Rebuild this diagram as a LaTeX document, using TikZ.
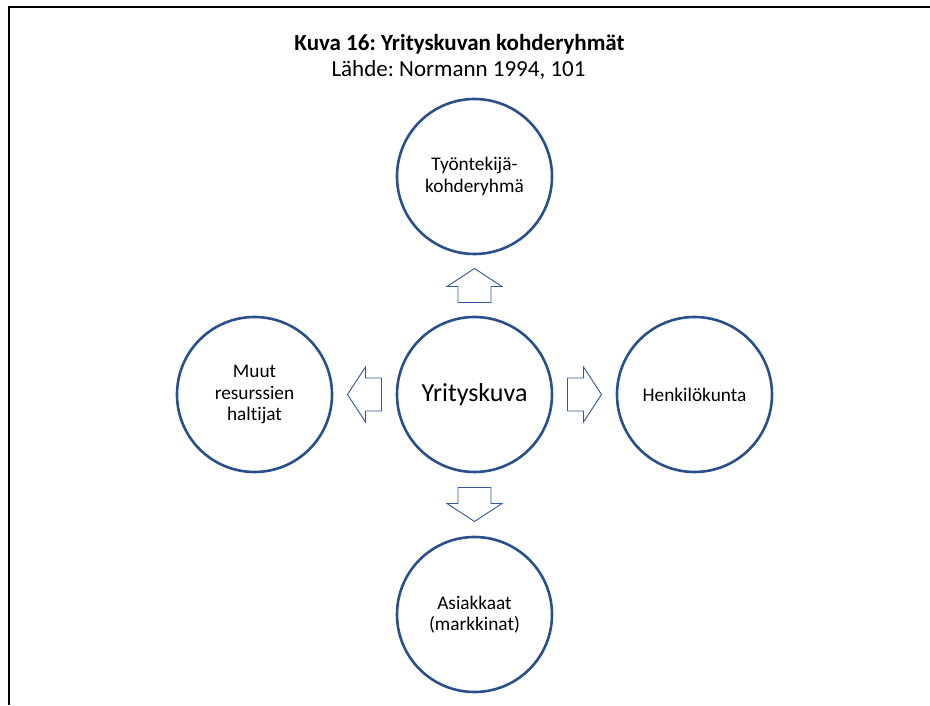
\documentclass[tikz,border=0pt]{standalone}
\usepackage{fontspec}
\setmainfont[Ligatures=NoCommon]{Carlito}
\frenchspacing
\usetikzlibrary{calc}
\definecolor{ringblue}{RGB}{41,80,138}
\definecolor{arrowblue}{RGB}{50,88,150}
\begin{document}
\begin{tikzpicture}[x=1pt,y=1pt,
  ring/.style={circle, draw=ringblue, line width=2.6pt, minimum size=155pt,
    inner sep=0pt, align=center, font=\fontsize{19.3}{21.5}\selectfont},
  heading/.style={anchor=base, font=\fontsize{23}{26}\selectfont},
  pics/blockarrow/.style={code={
    \draw[arrowblue, line width=0.9pt, fill=white, line join=miter]
      (-17,-16.5) -- (-1,-16.5) -- (-1,-27.5) -- (17,0) -- (-1,27.5)
      -- (-1,16.5) -- (-17,16.5) -- cycle;}}]
\useasboundingbox (0,0) rectangle (930,705);

% page frame: left and top edges
\draw[line width=2pt] (8.5,0) -- (8.5,697.5) -- (930,697.5);

% caption
\node[heading, font=\bfseries\fontsize{23}{26}\selectfont] (title) at (459.5,654)
  {Kuva 16: Yrityskuvan kohderyhmät};
\node[heading] (source) at (458.5,628) {Lähde: Normann 1994, 101};

% circles
\node[ring] (C) at (474.5,310.5) {\fontsize{26}{30}\selectfont Yrityskuva};
\node[ring] (T) at (474.5,528.5) {Työntekijä-\\kohderyhmä};
\node[ring] (L) at (254.5,310.5) {Muut\\resurssien\\haltijat};
\node[ring] (R) at (694.5,310.5) {Henkilökunta};
\node[ring] (B) at (474.5,90.5) {Asiakkaat\\(markkinat)};

% block arrows from the centre outwards
\pic[rotate=90]  at ($(C.north)!0.5!(T.south)$) {blockarrow};
\pic[rotate=-90] at ($(C.south)!0.5!(B.north)$) {blockarrow};
\pic[rotate=180] at ($(C.west)!0.5!(L.east)$)   {blockarrow};
\pic             at ($(C.east)!0.5!(R.west)$)   {blockarrow};
\end{tikzpicture}
\end{document}
